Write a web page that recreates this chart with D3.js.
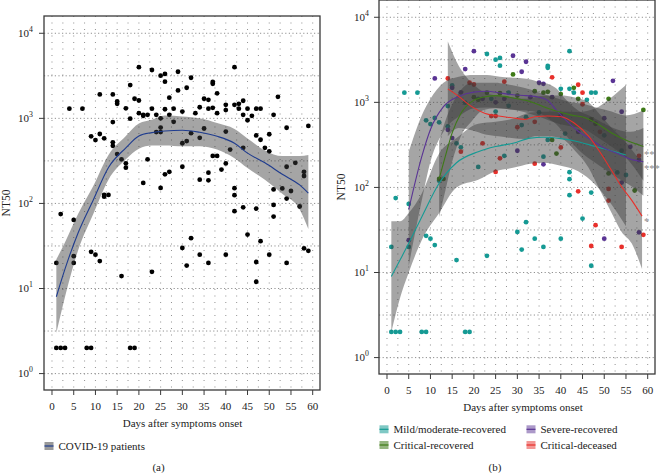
<!DOCTYPE html>
<html><head><meta charset="utf-8">
<script src="https://cdn.jsdelivr.net/npm/d3@7"></script>
<style>
body{margin:0;background:#fff}
svg{display:block}
text{font-family:"Liberation Serif","Times New Roman",serif;fill:#222}
</style>
</head><body>
<svg id="c" width="662" height="473"></svg>
<script>
// ---------- DATA (days after onset, NT50) ----------
const mildPts = [[1,20],[1,2],[2,2],[3,2],[2,75],[4,1300],[5,64],[5,20],[7,1300],[8,2],[9,2],[9,615],[9,27],[10,556],[10,25],[11,655],[11,21],[12,582],[12,120],[14,905],[14,522],[15,1580],[16,14],[16,330],[17,296],[18,990],[18,2],[19,2],[21,174],[21,1100],[23,3700],[23,15.7],[24,1100],[25,3170],[25,780],[26,3330],[26,2700],[27,235],[28,910],[28,1300],[30,30],[31,540],[31,18.6],[32,39],[32,670],[34,25],[35,760],[36,230],[36,20],[37,2680],[37,2550],[37,362],[40,25],[40,1440],[41,430],[42,4000],[42,1440],[42,151],[42,125],[42,81],[43,1300],[45,43],[46,1070],[47,1300],[47,87],[47,12],[48,1300],[50,410],[53,150],[54,270],[55,140]];
const severePts = [[5,24],[11,1910],[14,475],[15,380],[15,1480],[17,1310],[18,2460],[20,4000],[22,1100],[25,1000],[27,1100],[29,3530],[30,270],[31,2290],[32,3000],[33,1150],[35,1700],[36,187],[36,1650],[38,1150],[40,700],[44,450],[50,25],[50,650],[52,1790],[54,775],[54,114],[56,300],[58,29.7],[58,210]];
const critRecPts = [[12,126],[13,126],[20,1150],[21,1070],[23,1300],[26,1280],[29,2130],[30,1200],[34,1350],[36,1300],[37,1330],[38,362],[39,250],[40,1250],[43,1480],[44,1100],[47,630],[48,560],[51,1100],[51,146],[57,92],[59,815]];
const critDecPts = [[14,1910],[17,263],[19,1700],[20,1620],[22,330],[24,690],[25,690],[25,152],[26,220],[27,1750],[30,510],[34,590],[34,190],[38,1970],[40,295],[44,1610],[44,90],[45,1300],[45,950],[47,20.5],[48,36],[49,450],[51,96],[51,70],[54,20],[58,235],[59,27.7]];

// smoothed fits and confidence bands
const allDays = [1,3,6,9.5,13,17,20,23,26,30,34,38,42,45,49,53,57,59];
const allFit  = [8,17,45,110,265,450,620,680,710,725,685,615,510,390,300,220,165,132];
const allLo   = [3,8,28,75,190,330,440,480,480,470,470,430,340,260,190,130,85,50];
const allHi   = [22,35,75,160,370,620,870,960,1080,1050,1000,880,750,580,420,360,360,370];

const mildDays = [1,3,5,8,12,16,21,25,29,33,36,40,44,48,51,55];
const mildFit  = [9,14,22,45,112,195,263,302,331,380,389,375,345,302,275,240];
const mildLo   = [2,5,10,24,50,100,123,155,170,190,195,180,155,107,70,35];
const mildHi   = [40,40,50,85,250,380,560,590,640,760,775,780,770,850,1080,1600];

const severeDays = [5,8,10,13,16.5,20,23,26,29,32,35,37,39,41,44,47,50,53,56,59];
const severeFit  = [55,230,480,890,1175,1320,1350,1290,1230,1200,1150,1050,810,630,457,363,290,250,215,200];
const severeLo   = [12,70,200,450,680,850,870,850,820,800,750,650,550,420,280,210,165,130,105,80];
const severeHi   = [260,700,1100,1700,2000,2100,2100,2000,1950,1900,1750,1650,1450,1100,800,680,560,480,450,500];

const critRecDays = [12,13.4,15,17,19.5,22,25,27,30,33,36,39.5,42.5,45.6,48.7,51.7,54.8,59];
const critRecFit  = [126,230,437,740,1020,1150,1200,1175,1100,1020,890,776,708,660,550,437,363,302];
const critRecLo   = [45,90,200,400,600,800,850,840,800,730,650,560,520,480,380,300,230,120];
const critRecHi   = [350,600,950,1400,1700,1700,1700,1650,1550,1420,1250,1100,1000,950,850,780,700,800];

const critDecDays = [14,16.5,19.5,22.6,25.7,28.7,31.8,34,37,40,43,46.4,48.7,51.7,54,56.3,58.7];
const critDecFit  = [1440,1175,890,740,690,660,630,676,690,676,575,400,275,158,102,71,46];
const critDecLo   = [400,500,470,420,400,380,370,400,400,380,280,170,100,50,30,22,11];
const critDecHi   = [5200,2700,1700,1300,1200,1150,1100,1150,1200,1200,1150,1000,750,500,380,280,190];

const xTicks = [0,5,10,15,20,25,30,35,40,45,50,55,60];
const yTickExp = [0,1,2,3,4];
const groupNames = ["Mild/moderate-recovered","Severe-recovered","Critical-recovered","Critical-deceased"];
const sigLabels = ["**","***","*"];
const sigLevels = [257, 178, 42];

// ---------- STYLE ----------
const col = {mild:"#159a94", severe:"#5a3494", critRec:"#3e7a17", critDec:"#e8302b"};
const ribbonFill = "#3a3a3a", ribbonOpacity = 0.46;

const svg = d3.select("#c");
const x = d3.scaleLinear().domain([-1.84, 61.68]).range([44, 320]);
const y = d3.scaleLog().domain([Math.pow(10,-0.193), Math.pow(10,4.203)]).range([390, 16]);

function panel(g, id, opts){
  const defs = svg.append("defs");
  defs.append("clipPath").attr("id", id).append("rect")
    .attr("x",44).attr("y",16).attr("width",276).attr("height",374);
  // grid
  const grid = g.append("g");
  d3.range(0, 60.01, 2.5).forEach(d=>{
    grid.append("line").attr("x1",x(d)).attr("x2",x(d)).attr("y1",16).attr("y2",390)
      .attr("stroke","#858585").attr("stroke-width",0.9).attr("stroke-dasharray","1,5.5");
  });
  d3.range(0, 8.01, 1).forEach(k=>{
    const v = Math.pow(10, k/2);
    grid.append("line").attr("x1",44).attr("x2",320).attr("y1",y(v)).attr("y2",y(v))
      .attr("stroke","#858585").attr("stroke-width",0.9).attr("stroke-dasharray","1.2,2.4");
  });
  const plot = g.append("g").attr("clip-path",`url(#${id})`);
  // points
  opts.points.forEach(p=>{
    plot.append("g").selectAll("circle").data(p.data).join("circle")
      .attr("cx",d=>x(d[0])).attr("cy",d=>y(d[1])).attr("r",2.4).attr("fill",p.color);
  });
  // ribbons
  opts.curves.forEach(c=>{
    const rows = c.days.map((d,i)=>({d, f:c.fit[i], lo:c.lo[i], hi:c.hi[i]}));
    plot.append("path").datum(rows)
      .attr("d", d3.area().x(r=>x(r.d)).y0(r=>y(r.lo)).y1(r=>y(r.hi)).curve(d3.curveMonotoneX))
      .attr("fill", ribbonFill).attr("fill-opacity", ribbonOpacity);
  });
  opts.curves.forEach(c=>{
    const rows = c.days.map((d,i)=>({d, f:c.fit[i]}));
    plot.append("path").datum(rows)
      .attr("d", d3.line().x(r=>x(r.d)).y(r=>y(r.f)).curve(d3.curveMonotoneX))
      .attr("fill","none").attr("stroke", c.color).attr("stroke-width",1.1);
  });
  // frame
  g.append("rect").attr("x",44).attr("y",16).attr("width",276).attr("height",374)
    .attr("fill","none").attr("stroke","#3a3a3a").attr("stroke-width",1.3);
  // x axis
  xTicks.forEach(t=>{
    g.append("line").attr("x1",x(t)).attr("x2",x(t)).attr("y1",390).attr("y2",395)
      .attr("stroke","#3a3a3a").attr("stroke-width",1);
    g.append("text").attr("x",x(t)).attr("y",409.5).attr("text-anchor","middle")
      .attr("font-size",11).text(t);
  });
  // y axis
  yTickExp.forEach(e=>{
    const yy = y(Math.pow(10,e));
    g.append("line").attr("x1",39).attr("x2",44).attr("y1",yy).attr("y2",yy)
      .attr("stroke","#3a3a3a").attr("stroke-width",1);
    const t = g.append("text").attr("x",opts.ylabX).attr("y",yy+3.8).attr("text-anchor","end").attr("font-size",11);
    t.append("tspan").text("10");
    t.append("tspan").attr("dy",-5).attr("font-size",7.8).text(e);
  });
  g.append("text").attr("transform",`translate(10,203) rotate(-90)`).attr("text-anchor","middle")
    .attr("font-size",11.5).text("NT50");
  g.append("text").attr("x",opts.xTitleX).attr("y",426.5).attr("text-anchor","middle")
    .attr("font-size",11).text("Days after symptoms onset");
  // legend
  opts.legend.forEach(l=>{
    g.append("rect").attr("x",l.x).attr("y",l.y-4).attr("width",9).attr("height",8)
      .attr("fill",l.fill).attr("fill-opacity",l.op);
    g.append("line").attr("x1",l.x).attr("x2",l.x+9).attr("y1",l.y).attr("y2",l.y)
      .attr("stroke",l.color).attr("stroke-width",1.2);
    g.append("text").attr("x",l.x+14).attr("y",l.y+3.8).attr("font-size",11).text(l.label);
  });
  g.append("text").attr("x",opts.tagX).attr("y",opts.tagY).attr("text-anchor","middle")
    .attr("font-size",11).text(opts.tag);
}

// panel (a)
const gA = svg.append("g");
const allPts = [].concat(mildPts, severePts, critRecPts, critDecPts);
panel(gA, "clipA", {
  points:[{data:allPts, color:"#000"}],
  curves:[{days:allDays, fit:allFit, lo:allLo, hi:allHi, color:"#1f3c8f"}],
  ylabX:33, xTitleX:182.5,
  legend:[{x:44.5, y:446, fill:"#777", op:0.75, color:"#1f3c8f", label:"COVID-19 patients"}],
  tag:"(a)", tagX:158.5, tagY:471
});

// panel (b)
const gB = svg.append("g").attr("transform","translate(335,-16)");
panel(gB, "clipB", {
  points:[{data:mildPts,color:col.mild},{data:severePts,color:col.severe},{data:critRecPts,color:col.critRec},{data:critDecPts,color:col.critDec}],
  curves:[
    {days:mildDays, fit:mildFit, lo:mildLo, hi:mildHi, color:col.mild},
    {days:severeDays, fit:severeFit, lo:severeLo, hi:severeHi, color:col.severe},
    {days:critRecDays, fit:critRecFit, lo:critRecLo, hi:critRecHi, color:col.critRec},
    {days:critDecDays, fit:critDecFit, lo:critDecLo, hi:critDecHi, color:col.critDec}
  ],
  ylabX:34, xTitleX:188,
  legend:[
    {x:44.5, y:445.3, fill:col.mild, op:0.55, color:col.mild, label:groupNames[0]},
    {x:191.5, y:445.3, fill:col.severe, op:0.5, color:col.severe, label:groupNames[1]},
    {x:44.5, y:461, fill:col.critRec, op:0.55, color:col.critRec, label:groupNames[2]},
    {x:191.5, y:461, fill:col.critDec, op:0.5, color:col.critDec, label:groupNames[3]}
  ],
  tag:"(b)", tagX:160, tagY:487
});
// significance marks at the right end of panel (b)
sigLabels.forEach((lab,i)=>{
  gB.append("text").attr("x",309).attr("y",y(sigLevels[i])+5.5).attr("font-size",10.5)
    .style("fill","#8a8a8a").text(lab);
});
</script>
</body></html>
